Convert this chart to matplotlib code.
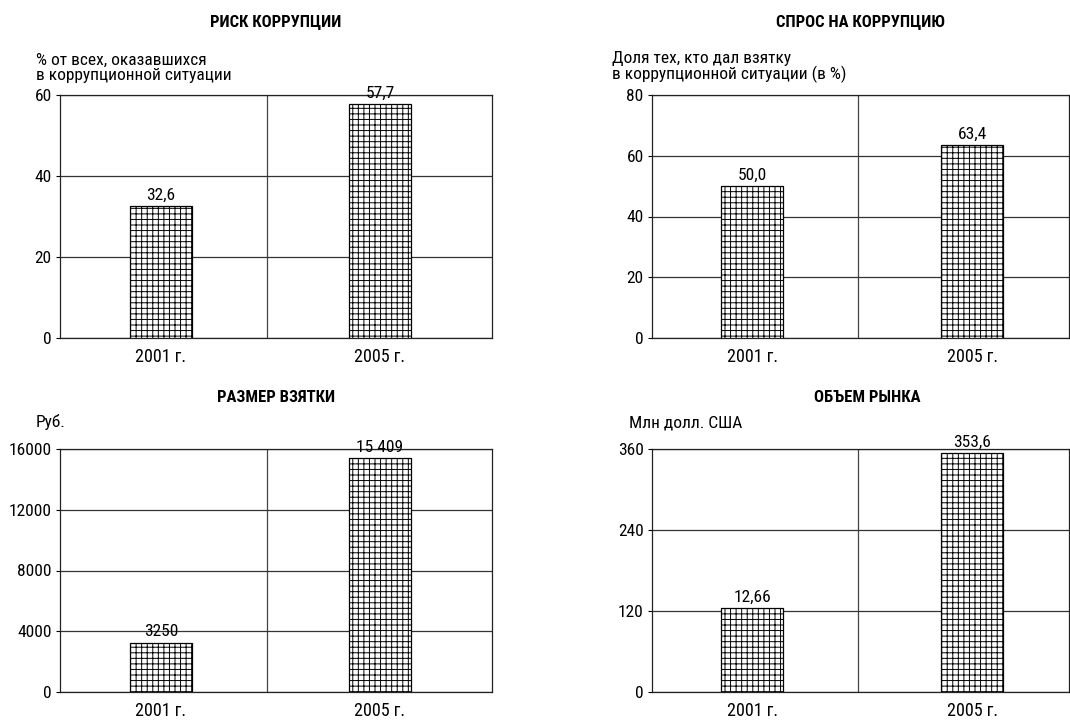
import numpy as np
from matplotlib import pyplot as plt

plt.rcParams['font.family'] = ['Roboto Condensed', 'DejaVu Sans']
plt.rcParams['hatch.linewidth'] = 0.7

years = ['2001 г.', '2005 г.']

titles = ['РИСК КОРРУПЦИИ', 'СПРОС НА КОРРУПЦИЮ', 'РАЗМЕР ВЗЯТКИ', 'ОБЪЕМ РЫНКА']
units = ['% от всех, оказавшихся\nв коррупционной ситуации',
         'Доля тех, кто дал взятку\nв коррупционной ситуации (в %)',
         'Руб.',
         'Млн долл. США']

risk = [32.6, 57.7]
demand = [50.0, 63.4]
bribe = [3250, 15409]
market = [124, 353.6]   # first bar is drawn near 120 in the source although labelled 12,66

risk_lbl = ['32,6', '57,7']
demand_lbl = ['50,0', '63,4']
bribe_lbl = ['3250', '15 409']
market_lbl = ['12,66', '353,6']

yticks = [[0, 20, 40, 60], [0, 20, 40, 60, 80], [0, 4000, 8000, 12000, 16000], [0, 120, 240, 360]]

W, H = 1070, 720
fig = plt.figure(figsize=(W/100, H/100), dpi=100)

# pixel boxes: left, right, top, bottom
boxes = [(60, 492, 95, 338), (652, 1069, 95, 338), (60, 492, 449, 692), (652, 1069, 449, 692)]
xlims = [(-0.461, 1.511), (-0.455, 1.44), (-0.461, 1.511), (-0.455, 1.44)]
mids = [0.484, 0.482, 0.484, 0.482]
title_pos = [(276, 23), (860, 23), (276, 398), (867, 398)]
unit_pos = [(36, 83), (612, 83), (36, 430), (629, 430)]

data = [risk, demand, bribe, market]
labels = [risk_lbl, demand_lbl, bribe_lbl, market_lbl]

for k in range(4):
    l, r, t, b = boxes[k]
    ax = fig.add_axes([l/W, 1-b/H, (r-l)/W, (b-t)/H])
    x = np.arange(len(years))
    ax.bar(x, data[k], width=0.283, color='white', edgecolor='black', lw=0.9,
           hatch='+++', zorder=3)
    for i in range(len(years)):
        ax.annotate(labels[k][i], (x[i], data[k][i]), xytext=(0, 2.5),
                    textcoords='offset points', ha='center', va='bottom',
                    fontsize=12.5, zorder=4)
    ax.set_xlim(*xlims[k])
    ax.set_ylim(0, yticks[k][-1])
    ax.set_yticks(yticks[k])
    ax.set_xticks(x)
    ax.set_xticklabels(years)
    ax.yaxis.grid(True, color='#333333', lw=0.9, zorder=0)
    ax.axvline(mids[k], color='#444444', lw=0.9, zorder=0)
    ax.tick_params(axis='x', length=0, pad=7, labelsize=13)
    ax.tick_params(axis='y', length=3, pad=3, labelsize=12.5, width=0.8)
    for s in ax.spines.values():
        s.set_linewidth(0.9)
        s.set_color('#222222')
    fig.text(title_pos[k][0]/W, 1-title_pos[k][1]/H, titles[k], ha='center', va='center',
             fontsize=12, fontweight='bold')
    fig.text(unit_pos[k][0]/W, 1-unit_pos[k][1]/H, units[k], ha='left', va='bottom',
             fontsize=12.5, linespacing=0.98)

plt.savefig('out.png', dpi=100)
